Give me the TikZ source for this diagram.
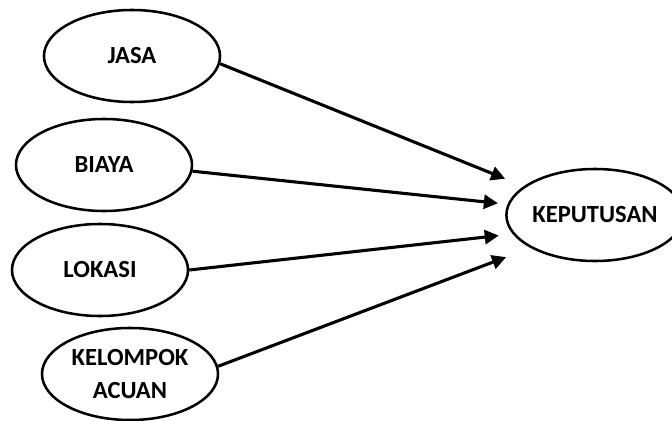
\documentclass[tikz,border=0pt]{standalone}
\usepackage{fontspec}
\setmainfont{Carlito}
\usetikzlibrary{shapes.geometric,arrows.meta}
\tikzset{
	faktor/.style={ellipse,draw,line width=1.8pt,minimum width=4.4cm,minimum height=2.3cm,inner sep=0pt,align=center,font=\fontsize{17.5}{24}\selectfont\bfseries},
	panah/.style={line width=2.2pt,-{Triangle[length=10pt,width=10pt]}}
}
\begin{document}
\begin{tikzpicture}[x=0.025cm,y=-0.025cm]
			\useasboundingbox (0,0) rectangle (672,421);
			\clip (0,0) rectangle (672,421);
			\node[faktor] (jasa) at (132,56) {JASA};
			\node[faktor] (biaya) at (104,165) {BIAYA};
			\node[faktor] (lokasi) at (100,270) {LOKASI};
			\node[faktor] (kelompok) at (130,374) {KELOMPOK\\ACUAN};
			\node[faktor] (keputusan) at (595,215) {KEPUTUSAN};
			\draw[panah,shorten >=0.5cm] (jasa.-5) -- (keputusan.158);
			\draw[panah,shorten >=0.24cm] (biaya.-4) -- (keputusan.173);
			\draw[panah,shorten >=0.35cm] (lokasi.east) -- (keputusan.-167);
			\draw[panah,shorten >=0.65cm] (kelompok.5) -- (keputusan.-153);
			\end{tikzpicture}
\end{document}
